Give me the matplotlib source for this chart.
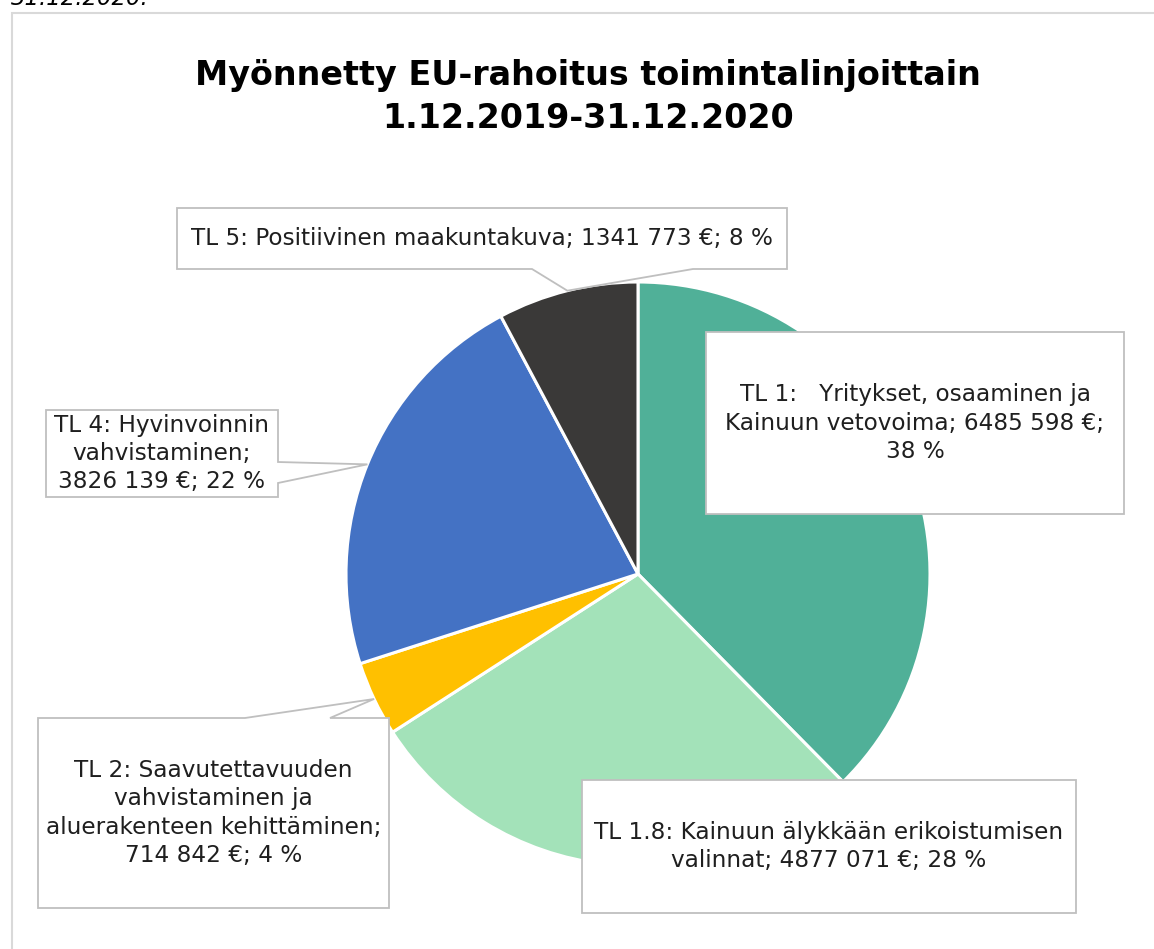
import numpy as np
import matplotlib
matplotlib.use("Agg")
import matplotlib.pyplot as plt
from matplotlib.patches import Polygon, Rectangle

# ---- data ----
categories = ["TL 1", "TL 1.8", "TL 2", "TL 4", "TL 5"]
values = [6485598, 4877071, 714842, 3826139, 1341773]
label_texts = [
    "TL 1:   Yritykset, osaaminen ja\nKainuun vetovoima; 6485 598 €;\n38 %",
    "TL 1.8: Kainuun älykkään erikoistumisen\nvalinnat; 4877 071 €; 28 %",
    "TL 2: Saavutettavuuden\nvahvistaminen ja\naluerakenteen kehittäminen;\n714 842 €; 4 %",
    "TL 4: Hyvinvoinnin\nvahvistaminen;\n3826 139 €; 22 %",
    "TL 5: Positiivinen maakuntakuva; 1341 773 €; 8 %",
]
colors = ["#50B098", "#A3E2B9", "#FFC000", "#4472C4", "#3A3938"]
title = "Myönnetty EU-rahoitus toimintalinjoittain\n1.12.2019-31.12.2020"

W, H = 1154, 949
fig = plt.figure(figsize=(W / 100, H / 100), dpi=100)
ax = fig.add_axes([0, 0, 1, 1])

def Y(y):  # convert top-down pixel y to data y
    return H - y

# frame around the chart
ax.add_patch(Rectangle((12, Y(1000)), 1200, 1000 - 13, fill=False,
                       edgecolor="#D9D9D9", lw=1.5, zorder=0))

# cut-off italic text at the very top (as in the source page)
ax.text(11, Y(5), "31.12.2020.", fontsize=16.5, style="italic",
        color="#000000", ha="left", va="baseline")

wedges, _ = ax.pie(values, colors=colors, startangle=90, counterclock=False,
                   center=(638, Y(574)), radius=292,
                   wedgeprops=dict(edgecolor="white", linewidth=2.2))
ax.set_xlim(0, W)
ax.set_ylim(0, H)
ax.set_aspect("auto")
ax.axis("off")

ax.text(588, Y(97), title, fontsize=24, fontweight="bold", ha="center",
        va="center", color="#000000", linespacing=1.36)

def anchor(i, k=1.0):
    w = wedges[i]
    mid = np.deg2rad((w.theta1 + w.theta2) / 2)
    cx, cy = w.center
    return (cx + k * w.r * np.cos(mid), cy + k * w.r * np.sin(mid))

box_ec = "#BFBFBF"
txt_c = "#1F1F1F"
fs = 16.7

boxes = [
    (0, (706, 332, 1124, 514), None),
    (1, (582, 780, 1076, 913), None),
    (2, (38, 718, 389, 908), ("top", 245, 330)),
    (3, (46, 410, 278, 497), ("right", 462, 483)),
    (4, (177, 208, 787, 269), ("bottom", 532, 693)),
]

for i, (x0, y0, x1, y1), ptr in boxes:
    if ptr is None:
        pts = [(x0, y0), (x1, y0), (x1, y1), (x0, y1)]
        pts = [(x, Y(y)) for x, y in pts]
    else:
        a = anchor(i)
        side, p1, p2 = ptr
        if side == "top":
            pts = [(x0, Y(y0)), (p1, Y(y0)), a, (p2, Y(y0)), (x1, Y(y0)),
                   (x1, Y(y1)), (x0, Y(y1))]
        elif side == "right":
            pts = [(x0, Y(y0)), (x1, Y(y0)), (x1, Y(p1)), a, (x1, Y(p2)),
                   (x1, Y(y1)), (x0, Y(y1))]
        else:
            pts = [(x0, Y(y0)), (x1, Y(y0)), (x1, Y(y1)), (p2, Y(y1)), a,
                   (p1, Y(y1)), (x0, Y(y1))]
    ax.add_patch(Polygon(pts, closed=True, facecolor="white",
                         edgecolor=box_ec, lw=1.3, zorder=5,
                         joinstyle="miter"))
    ax.text((x0 + x1) / 2, Y((y0 + y1) / 2), label_texts[i], fontsize=fs,
            ha="center", va="center", color=txt_c, zorder=6,
            linespacing=1.3)

fig.savefig("out.png", dpi=100)
